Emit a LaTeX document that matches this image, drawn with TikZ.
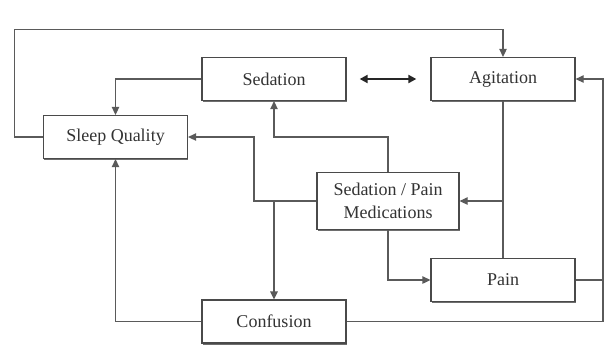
\documentclass[tikz,border=0pt]{standalone}
\usepackage{fontspec}
\setmainfont{Liberation Serif}
\usetikzlibrary{arrows.meta,shadows}
\definecolor{linec}{HTML}{5A5A5A}
\definecolor{boxc}{HTML}{4A4A4A}
\definecolor{txtc}{HTML}{333333}
\tikzset{
  box/.style={draw=boxc, line width=1.3pt, fill=white, minimum width=144pt, minimum height=43pt,
    inner sep=0pt, align=center, text=txtc, font=\fontsize{18}{23}\selectfont,
    drop shadow={shadow xshift=0.6pt, shadow yshift=-1.4pt, fill=boxc, opacity=0.8}},
  conn/.style={draw=linec, line width=1.3pt},
  arr/.style={conn, -{Triangle[length=8pt,width=7.5pt]}},
  dbl/.style={draw=black!85, line width=2pt, {Triangle[length=8pt,width=8pt]}-{Triangle[length=8pt,width=8pt]}}
}
\begin{document}
\begin{tikzpicture}[x=1pt,y=-1pt]
\useasboundingbox[fill=white] (0,0) rectangle (608,346);
\node[box] (sed) at (274,79) {Sedation};
\node[box] (agi) at (503,79) {Agitation};
\node[box] (sq) at (115.5,137) {Sleep Quality};
\node[box, minimum width=142pt, minimum height=57pt] (med) at (388,201) {Sedation / Pain\\Medications};
\node[box] (pain) at (503,280) {Pain};
\node[box] (conf) at (274,321.6) {Confusion};
\coordinate (tl) at (14.7,29.3);
\coordinate (j1) at (254,201);
\coordinate (j2) at (274,201);
\coordinate (rx) at (603,180);
% connectors
\draw[arr] (sq.west) -| (tl) -| (agi.north);
\draw[arr] (sed.west) -| (sq.north);
\draw[dbl, shorten <=13pt, shorten >=14pt] (sed.east) -- (agi.west);
\draw[arr] (med.north) -- ++(0,-35) -| (sed.south);
\draw[arr] (med.west) -- (j1) |- (sq.east);
\draw[arr] (j2) -- (conf.north);
\draw[conn] (agi.south) -- (pain.north);
\draw[arr] (agi.south |- med.east) -- (med.east);
\draw[arr] (med.south) |- (pain.west);
\draw[arr] (pain.east) -| (rx) |- (agi.east);
\draw[conn] (conf.east) -| (pain.east -| rx);
\draw[arr] (conf.west) -| (sq.south);
\end{tikzpicture}
\end{document}
